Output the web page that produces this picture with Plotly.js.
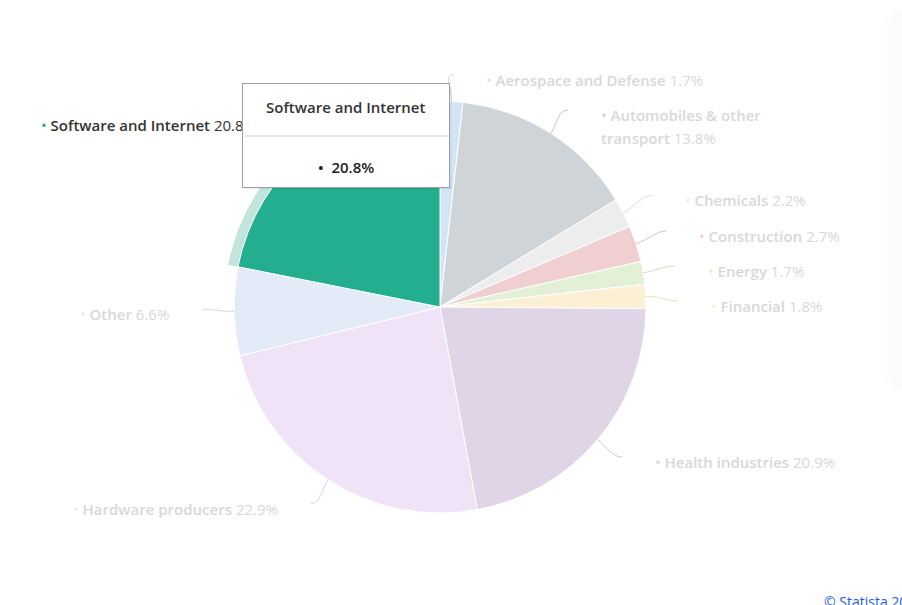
<!DOCTYPE html>
<html>
<head>
<meta charset="utf-8">
<script src="https://cdn.plot.ly/plotly-3.0.1.min.js"></script>
<style>
  html, body { margin: 0; padding: 0; background: #fff; }
  #grafica { width: 902px; height: 605px; }
</style>
</head>
<body>
<div id="grafica"></div>
<script>
// datos
const sectores = ["Aerospace and Defense", "Automobiles & other transport", "Chemicals", "Construction", "Energy",
  "Financial", "Health industries", "Hardware producers", "Other", "Software and Internet"];
const porcentajes = [1.7, 13.8, 2.2, 2.7, 1.7, 1.8, 20.9, 22.9, 6.6, 20.8];
const colores = ["#d4e4f7", "#cfd4d8", "#ededed", "#efcfd0", "#e3f0d6", "#fbefd4", "#e0d5e6", "#f0e2f7", "#e4ebf8", "#22ae8f"];
const activo = "Software and Internet";

// geometria (px)
const W = 902, H = 605;
const cx = 440, cy = 307, radio = 206, radioEtiqueta = 238, halo = 10;
const altoLinea = 23, altoCaja = 35;
const fuente = "Open Sans", tamFuente = 15;

const px = x => x / W;
const py = y => 1 - y / H;

function dominio(r) {
  return { x: [px(cx - r), px(cx + r)], y: [py(cy + r), py(cy - r)] };
}

function oscurecer(hex, f) {
  const n = parseInt(hex.slice(1), 16);
  const c = [(n >> 16) & 255, (n >> 8) & 255, n & 255].map(v => Math.round(v * f));
  return "rgb(" + c.join(",") + ")";
}

function partirEtiqueta(nombre, valor) {
  const palabras = nombre.split(" ").map(p => ({ t: p, b: true }));
  palabras.push({ t: valor.toFixed(1) + "%", b: false });
  const largo = nombre.length + valor.toFixed(1).length + 2;
  if (largo <= 30) return [palabras];
  const lineas = [[]];
  let n = 0;
  palabras.forEach(p => {
    if (n + p.t.length > 20 && lineas[lineas.length - 1].length) { lineas.push([]); n = 0; }
    lineas[lineas.length - 1].push(p);
    n += p.t.length + 1;
  });
  return lineas;
}

function htmlLinea(palabras) {
  let s = "", negrita = null;
  palabras.forEach((p, i) => {
    const t = p.t.replace(/&/g, "&amp;");
    if (p.b !== negrita) {
      if (negrita !== null) s += "</span>";
      s += (i ? " " : "") + '<span style="font-weight:' + (p.b ? 600 : 400) + '">' + t;
      negrita = p.b;
    } else {
      s += " " + t;
    }
  });
  return s + "</span>";
}

// posiciones de etiquetas
const total = porcentajes.reduce((a, b) => a + b, 0);
let acum = 0;
const puntos = sectores.map((s, i) => {
  const medio = (acum + porcentajes[i] / 2) / total * 2 * Math.PI;
  acum += porcentajes[i];
  const lineas = partirEtiqueta(s, porcentajes[i]);
  return {
    i, medio, lineas,
    lado: Math.sin(medio) >= 0 ? 1 : -1,
    y: cy - radioEtiqueta * Math.cos(medio) + 2
  };
});

[1, -1].forEach(lado => {
  const grupo = puntos.filter(p => p.lado === lado).sort((a, b) => a.y - b.y);
  let fondo = 80 - altoCaja / 2;
  grupo.forEach(p => {
    const extra = (p.lineas.length - 1) * altoLinea;
    p.y = Math.max(p.y, fondo + altoCaja / 2);
    fondo = p.y + altoCaja / 2 + extra;
  });
});

const shapes = [];
const annotations = [];

puntos.forEach(p => {
  const esActivo = sectores[p.i] === activo;
  const x0 = cx + radio * Math.sin(p.medio), y0 = cy - radio * Math.cos(p.medio);
  const x1 = cx + radioEtiqueta * Math.sin(p.medio), y1 = p.y - 5;
  const c1x = x0 + 12 * Math.sin(p.medio), c1y = y0 - 12 * Math.cos(p.medio);
  const c2x = x1 - p.lado * 10, c2y = y1;
  shapes.push({
    type: "path", xref: "paper", yref: "paper",
    path: `M ${px(x0)} ${py(y0)} C ${px(c1x)} ${py(c1y)}, ${px(c2x)} ${py(c2y)}, ${px(x1)} ${py(y1)}`,
    line: { color: oscurecer(colores[p.i], 0.93), width: 1 }
  });

  const xt = p.lado === 1 ? x1 + 31 : x1 - 31;
  p.lineas.forEach((palabras, k) => {
    let texto = htmlLinea(palabras);
    if (k === 0) texto = '<span style="color:' + colores[p.i] + '">•</span> ' + texto;
    annotations.push({
      xref: "paper", yref: "paper",
      x: px(xt), y: py(p.y + k * altoLinea),
      xanchor: p.lado === 1 ? "left" : "right", yanchor: "middle",
      showarrow: false, text: texto,
      font: { family: fuente, size: tamFuente, color: esActivo ? "#333333" : "#d8d8d8" }
    });
  });
});

// tooltip
const tip = { x: 346, y: 135.5, w: 206, h: 103 };
annotations.push({
  xref: "paper", yref: "paper", x: px(tip.x + 2), y: py(tip.y + 2),
  xanchor: "center", yanchor: "middle", showarrow: false, text: " ",
  width: tip.w, height: tip.h, borderpad: 0, bgcolor: "rgba(0,0,0,0.06)"
});
annotations.push({
  xref: "paper", yref: "paper", x: px(tip.x), y: py(tip.y),
  xanchor: "center", yanchor: "middle", showarrow: false, text: " ",
  width: tip.w, height: tip.h, borderpad: 0, bgcolor: "#ffffff",
  bordercolor: "#a0a0a0", borderwidth: 1
});
annotations.push({
  xref: "paper", yref: "paper", x: px(tip.x + tip.w / 2), y: py(136),
  ax: -tip.w, ay: 0, text: "", showarrow: true, arrowhead: 0,
  arrowwidth: 1, arrowcolor: "#cccccc", standoff: 0, startstandoff: 0
});
const iActivo = sectores.indexOf(activo);
annotations.push({
  xref: "paper", yref: "paper", x: px(tip.x), y: py(107),
  xanchor: "center", yanchor: "middle", showarrow: false,
  text: '<span style="font-weight:600">' + activo + "</span>",
  font: { family: fuente, size: tamFuente, color: "#333333" }
});
annotations.push({
  xref: "paper", yref: "paper", x: px(tip.x), y: py(167),
  xanchor: "center", yanchor: "middle", showarrow: false,
  text: '<span style="font-weight:600">•  ' + porcentajes[iActivo].toFixed(1) + "%</span>",
  font: { family: fuente, size: tamFuente, color: "#222222" }
});

annotations.push({
  xref: "paper", yref: "paper", x: px(822), y: py(601),
  xanchor: "left", yanchor: "middle", showarrow: false,
  text: "© Statista 2024",
  font: { family: fuente, size: 14, color: "#1a5cf0" }
});

// sombra tenue del borde derecho
shapes.push({
  type: "rect", xref: "paper", yref: "paper",
  x0: px(884), x1: px(893), y0: py(380), y1: py(20),
  fillcolor: "#fdfdfe", line: { width: 0 }, layer: "below"
});
shapes.push({
  type: "rect", xref: "paper", yref: "paper",
  x0: px(893), x1: 1, y0: py(390), y1: py(10),
  fillcolor: "#fafbfc", line: { width: 0 }, layer: "below"
});

const trazaHalo = {
  type: "pie",
  labels: sectores,
  values: porcentajes,
  sort: false,
  direction: "clockwise",
  rotation: 0,
  hole: radio / (radio + halo),
  domain: dominio(radio + halo),
  marker: {
    colors: sectores.map(s => s === activo ? "#c2e5db" : "rgba(0,0,0,0)"),
    line: { width: 0 }
  },
  textinfo: "none",
  hoverinfo: "skip",
  showlegend: false
};

const trazaPie = {
  type: "pie",
  labels: sectores,
  values: porcentajes,
  sort: false,
  direction: "clockwise",
  rotation: 0,
  domain: dominio(radio),
  marker: { colors: colores, line: { color: "#ffffff", width: 1 } },
  textinfo: "none",
  hoverinfo: "skip",
  showlegend: false
};

Plotly.newPlot("grafica", [trazaHalo, trazaPie], {
  width: W,
  height: H,
  margin: { t: 0, b: 0, l: 0, r: 0 },
  paper_bgcolor: "#ffffff",
  showlegend: false,
  shapes,
  annotations
}, { staticPlot: true, displayModeBar: false });
</script>
</body>
</html>
